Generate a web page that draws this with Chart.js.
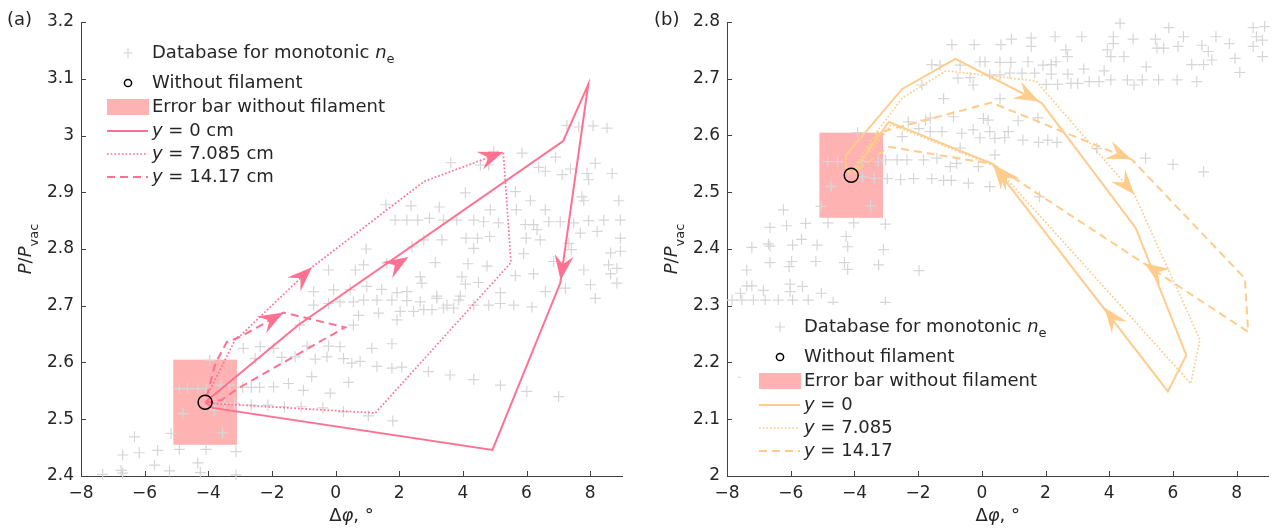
<!DOCTYPE html>
<html><head><meta charset="utf-8">
<script src="https://cdn.jsdelivr.net/npm/chart.js@4.4.1/dist/chart.umd.min.js"></script>
<style>
html,body{margin:0;padding:0;background:#fff;}
#wrap{position:relative;width:1277px;height:529px;overflow:hidden;background:#fff;}
canvas{position:absolute;top:0;}
</style></head><body>
<div id="wrap">
<canvas id="ca" width="640" height="529" style="left:0;width:640px;height:529px"></canvas>
<canvas id="cb" width="637" height="529" style="left:640px;width:637px;height:529px"></canvas>
</div>
<script>
// ---------- data ----------
const xTicks = [-8,-6,-4,-2,0,2,4,6,8];
const yTicksA = [2.4,2.5,2.6,2.7,2.8,2.9,3.0,3.1,3.2];
const yTicksB = [2.0,2.1,2.2,2.3,2.4,2.5,2.6,2.7,2.8];
const refPoint = [[-4.1,2.53]];
const errBarX = [-5.1,-3.1];
const errBarY = [2.455,2.605];
const lineLabelsA = ['0 cm','7.085 cm','14.17 cm'];
const lineLabelsB = ['0','7.085','14.17'];

const databaseA = [
[3.62,2.952],[4.55,2.948],[4.81,2.948],[4.97,2.972],[5.86,2.969],[6.38,2.944],[6.59,2.937],[7.12,2.931],[7.38,2.941],[7.90,2.933],[8.16,2.951],[7.95,2.922],[8.69,2.933],
[4.08,2.899],[5.65,2.901],[6.12,2.885],[7.74,2.892],[7.80,2.885],[8.90,2.885],
[1.58,2.878],[2.37,2.876],[3.26,2.874],[4.86,2.869],[5.68,2.869],[6.59,2.869],
[1.87,2.851],[2.24,2.851],[2.58,2.851],[2.95,2.854],[3.39,2.851],[3.81,2.851],[4.34,2.851],[4.65,2.848],[5.12,2.846],[5.96,2.843],[6.22,2.843],[6.33,2.834],[6.70,2.848],[7.06,2.848],[7.48,2.846],[7.95,2.85],[8.43,2.851],[8.95,2.851],
[2.77,2.816],[3.34,2.816],[4.10,2.819],[4.46,2.819],[4.84,2.822],[5.99,2.819],[6.43,2.816],[7.33,2.81],[7.69,2.828],[8.22,2.831],[8.95,2.819],
[0.96,2.80],[2.40,2.804],[4.34,2.801],[5.91,2.792],[7.41,2.799],[8.64,2.793],[8.95,2.796],
[0.88,2.772],[0.62,2.763],[1.61,2.775],[3.13,2.776],[4.16,2.774],[4.76,2.77],[5.65,2.753],[6.22,2.756],[6.85,2.778],[7.80,2.763],[8.58,2.772],[8.84,2.766],[8.64,2.756],
[-0.22,2.763],[2.66,2.751],[2.71,2.74],[3.97,2.751],[4.08,2.738],[4.49,2.741],[8.01,2.737],[8.84,2.74],
[-0.69,2.725],[-0.06,2.728],[0.46,2.728],[0.98,2.734],[1.45,2.729],[1.93,2.723],[2.24,2.725],[3.18,2.717],[3.92,2.717],[5.18,2.723],[6.59,2.725],[7.22,2.731],
[-0.69,2.701],[-0.22,2.704],[0.14,2.707],[0.56,2.707],[0.88,2.71],[1.30,2.71],[1.77,2.71],[2.24,2.709],[2.66,2.707],[3.18,2.713],[3.50,2.701],[3.87,2.71],[4.34,2.701],[4.81,2.701],[5.18,2.704],[5.60,2.701],[6.17,2.698],[8.16,2.713],
[2.03,2.69],[2.45,2.69],[2.77,2.693],[3.03,2.693],[3.39,2.696],[3.71,2.696],[1.35,2.687],[0.72,2.683],[1.93,2.675],[0.56,2.666],
[-2.90,2.625],[-2.37,2.628],[-1.95,2.625],[-0.90,2.629],[-0.22,2.629],[0.14,2.628],[1.14,2.625],[1.77,2.633],
[-2.53,2.607],[-1.69,2.609],[-1.27,2.61],[-0.64,2.606],[-0.27,2.61],[0.25,2.607],[0.51,2.599],[0.77,2.602],[1.30,2.593],[1.77,2.59],[2.08,2.592],[2.92,2.584],[3.60,2.578],[4.34,2.57],[5.18,2.56],[6.01,2.549],[7.01,2.54],
[-0.75,2.575],[-1.95,2.557],[-1.48,2.563],[-1.01,2.551],[-0.17,2.546],[0.41,2.565],
[6.91,2.962],[7.27,3.018],[7.64,3.015],[8.09,3.017],[8.53,3.013],[1.03,2.506],[1.80,2.497],[-1.13,2.666],
[-3.96,2.604],[-4.91,2.554],[-4.65,2.554],[-4.33,2.554],[-4.07,2.554],[-3.60,2.56],[-3.34,2.56],[-2.92,2.556],[-2.65,2.556],[-2.39,2.556],
[-4.80,2.51],[-3.81,2.516],[-3.49,2.528],[-3.18,2.528],[-2.65,2.525],[-2.13,2.525],[-1.61,2.522],[-1.08,2.522],[-0.40,2.52],[0.25,2.513],
[-6.32,2.469],[-5.17,2.475],[-3.55,2.476],[-6.69,2.437],[-6.17,2.441],[-5.59,2.445],[-4.91,2.447],[-4.07,2.447],[-3.13,2.443],
[-6.74,2.41],[-5.69,2.419],[-5.22,2.409],[-4.33,2.423],[-7.32,2.403],[-6.69,2.405],[-4.25,2.406],[-3.13,2.402]
];

const databaseB = [
[4.34,2.798],[5.87,2.790],[8.52,2.79],[8.88,2.792],
[-0.94,2.76],[-0.24,2.76],[0.60,2.76],[0.93,2.77],[1.55,2.772],[1.55,2.757],[2.30,2.774],[3.14,2.774],
[4.13,2.774],[4.13,2.762],[3.94,2.751],[4.05,2.739],[4.75,2.77],[5.45,2.77],[5.50,2.754],[5.71,2.754],[6.16,2.757],[6.33,2.774],[6.91,2.759],[7.35,2.774],[7.77,2.762],[8.52,2.757],[8.62,2.774],[8.81,2.768],[8.81,2.739],
[2.64,2.751],[2.69,2.739],[4.46,2.739],[7.11,2.748],[7.22,2.733],[7.95,2.736],[8.10,2.711],[6.59,2.725],[6.96,2.725],[5.16,2.721],
[-1.57,2.725],[-1.31,2.724],[-0.68,2.724],[-0.06,2.73],[0.10,2.73],[0.57,2.729],[0.91,2.729],[1.45,2.73],[1.92,2.724],[2.18,2.725],[2.33,2.73],[3.20,2.717],[3.84,2.714],
[-0.75,2.701],[-0.37,2.702],[-0.27,2.689],
[0.25,2.707],[0.57,2.707],[0.88,2.71],[1.26,2.71],[1.66,2.71],[2.18,2.708],[2.70,2.708],
[2.02,2.69],[2.38,2.69],[2.80,2.692],[3.01,2.692],[3.37,2.695],[3.68,2.695],[4.05,2.698],[4.57,2.698],[4.78,2.689],[5.04,2.698],[5.55,2.698],[6.13,2.698],[6.75,2.695],
[-1.88,2.689],[-1.2,2.665],[0.57,2.665],
[-2.31,2.624],[-1.77,2.627],[-1.62,2.631],[-0.89,2.633],[0.05,2.63],[0.20,2.627],[1.14,2.626],[1.76,2.631],
[-1.98,2.612],[-1.62,2.607],[-1.25,2.607],[-0.63,2.604],[-0.27,2.61],[0.25,2.607],[0.83,2.607],
[-2.50,2.598],[-0.06,2.596],[0.41,2.595],[0.72,2.596],[1.29,2.592],[1.78,2.588],[2.07,2.592],[2.36,2.588],
[-3.9,2.605],[-0.68,2.578],[0.41,2.566],[3.61,2.577],[5.14,2.56],[6.0,2.549],[6.96,2.536],
[-3.02,2.557],[-2.66,2.557],[-2.35,2.557],[-1.83,2.557],[-1.41,2.56],[-0.99,2.545],[-0.79,2.551],[-0.11,2.545],
[-4.84,2.554],[-4.53,2.554],[-3.75,2.554],[-3.25,2.554],
[-2.97,2.524],[-2.55,2.522],[-2.14,2.524],[-1.57,2.524],[-1.2,2.521],[-0.96,2.521],[-0.42,2.516],[0.25,2.51],[1.81,2.492],
[-3.75,2.527],[-3.38,2.525],[-4.74,2.51],[-3.49,2.476],[-5.05,2.475],
[-6.23,2.469],[-6.65,2.438],[-6.13,2.441],[-5.53,2.445],[-4.83,2.446],[-4.02,2.446],[-3.03,2.444],
[-7.22,2.403],[-6.7,2.409],[-6.65,2.405],[-5.94,2.407],[-5.66,2.417],[-5.17,2.407],[-4.26,2.422],[-4.21,2.404],[-3.09,2.399],
[-7.38,2.363],[-6.65,2.376],[-6.05,2.369],[-5.97,2.378],[-5.21,2.378],[-4.31,2.376],[-4.21,2.364],[-3.24,2.372],[-1.97,2.362],
[-7.38,2.335],[-7.22,2.335],[-7.58,2.322],[-6.86,2.327],[-6.02,2.338],[-6.02,2.325],[-5.63,2.334],[-5.04,2.322],
[-7.84,2.31],[-7.53,2.31],[-7.17,2.31],[-6.8,2.31],[-6.39,2.31],[-5.94,2.31],[-5.45,2.31],[-4.67,2.306],[-3.03,2.306],
[-7.5,2.174]
];

const y0A  = [[-4.1,2.53],[-1.15,2.667],[7.15,2.99],[7.94,3.09],[7.06,2.74],[4.93,2.446],[-3.86,2.52],[-4.1,2.53]];
const y7A  = [[-4.05,2.54],[-3.13,2.643],[-2.98,2.648],[-0.74,2.768],[2.78,2.919],[5.27,2.971],[5.51,2.776],[1.25,2.511],[-3.88,2.528],[-4.05,2.53]];
const y14A = [[-4.05,2.54],[-3.78,2.598],[-3.42,2.636],[-3.0,2.645],[-1.64,2.688],[0.30,2.662],[-3.05,2.555],[-3.58,2.534],[-4.05,2.53]];
// arrows: [tipX, tipY, fromX, fromY]
const arrows0A  = [[2.29,2.786,-1.15,2.667],[7.07,2.745,7.94,3.09]];
const arrows7A  = [[-0.74,2.768,-2.98,2.648],[5.27,2.971,2.78,2.919]];
const arrows14A = [[-1.64,2.688,-3.0,2.645]];

const y0B  = [[-4.1,2.53],[-4.27,2.545],[-4.27,2.565],[-2.5,2.682],[-0.83,2.735],[1.88,2.657],[4.83,2.437],[6.42,2.213],[5.84,2.149],[0.33,2.55],[-2.92,2.624],[-4.05,2.535]];
const y7B  = [[-4.05,2.54],[-3.25,2.61],[-2.5,2.666],[-1.12,2.714],[1.7,2.696],[4.79,2.496],[6.85,2.24],[6.56,2.163],[0.42,2.546],[-2.85,2.619],[-4.0,2.535]];
const y14B = [[-4.0,2.535],[-3.25,2.605],[0.3,2.658],[4.72,2.557],[8.26,2.348],[8.36,2.254],[0.33,2.55],[-2.92,2.58],[-3.54,2.554],[-4.0,2.535]];
const arrows0B  = [[1.8,2.66,-0.83,2.735],[3.85,2.297,5.84,2.149],[0.36,2.549,5.84,2.149]];
const arrows7B  = [[4.79,2.496,1.7,2.696],[0.45,2.546,6.56,2.163]];
const arrows14B = [[4.7,2.558,0.3,2.658],[5.1,2.375,8.36,2.254]];

// ---------- style ----------
const PINK = 'rgb(255,112,145)';
const ORANGE = 'rgb(255,204,140)';
const ERR = 'rgb(255,178,178)';
const GREY = 'rgb(214,214,214)';
const TXT = '#262626';
const AX = '#404040';
const FONT = '"DejaVu Sans", sans-serif';
Chart.defaults.font.family = FONT;

function pts(a){ return a.map(p => ({x:p[0], y:p[1]})); }
function fmt(v){ const s = String(Math.round(v*10)/10); return s.replace('-', '\u2212'); }

function rich(ctx, x, y, parts, size, align){
  let w = 0;
  const info = parts.map(p => {
    const sz = p[1]==='s' ? Math.round(size*0.72) : size;
    const f = (p[1]==='i' ? 'italic ' : '') + sz + 'px ' + FONT;
    ctx.font = f;
    const m = ctx.measureText(p[0]).width;
    w += m;
    return [f, m];
  });
  let cx = align==='center' ? x - w/2 : x;
  parts.forEach((p,i) => {
    ctx.font = info[i][0];
    ctx.fillText(p[0], cx, y + (p[1]==='s' ? size*0.38 : 0));
    cx += info[i][1];
  });
}

function drawArrow(ctx, xs, ys, a, color){
  const tx = xs.getPixelForValue(a[0]), ty = ys.getPixelForValue(a[1]);
  const fx = xs.getPixelForValue(a[2]), fy = ys.getPixelForValue(a[3]);
  const d = Math.hypot(tx-fx, ty-fy);
  const ux = (tx-fx)/d, uy = (ty-fy)/d, nx = -uy, ny = ux;
  const L = 25, W = 9.5, N = 16;
  ctx.beginPath();
  ctx.moveTo(tx, ty);
  ctx.lineTo(tx - L*ux + W*nx, ty - L*uy + W*ny);
  ctx.lineTo(tx - N*ux, ty - N*uy);
  ctx.lineTo(tx - L*ux - W*nx, ty - L*uy - W*ny);
  ctx.closePath();
  ctx.fillStyle = color;
  ctx.fill();
}

function lineDs(data, color, kind){
  const ds = {data: pts(data), showLine:true, pointRadius:0, borderColor:color, backgroundColor:color, tension:0, fill:false, borderWidth:2};
  if (kind==='dot'){ ds.borderWidth = 1.7; ds.borderDash = [1.7,2.0]; }
  if (kind==='dash'){ ds.borderDash = [8,5]; }
  return ds;
}

function legendLine(ctx, x0, x1, y, color, kind){
  ctx.save();
  ctx.strokeStyle = color;
  ctx.lineWidth = kind==='dot' ? 1.7 : 2;
  ctx.setLineDash(kind==='dot' ? [1.7,2.0] : kind==='dash' ? [8,5] : []);
  ctx.beginPath(); ctx.moveTo(x0,y); ctx.lineTo(x1,y); ctx.stroke();
  ctx.restore();
}

function build(id, p){
  const plugin = {
    id: 'deco' + id,
    beforeDatasetsDraw(chart){
      const {ctx, scales:{x, y}} = chart;
      const x0 = x.getPixelForValue(errBarX[0]), x1 = x.getPixelForValue(errBarX[1]);
      const y0 = y.getPixelForValue(errBarY[1]), y1 = y.getPixelForValue(errBarY[0]);
      ctx.save(); ctx.fillStyle = ERR; ctx.fillRect(x0, y0, x1-x0, y1-y0); ctx.restore();
    },
    afterDatasetsDraw(chart){
      const {ctx, scales:{x, y}, chartArea:ca} = chart;
      ctx.save();
      p.arrows.forEach(a => drawArrow(ctx, x, y, a, p.color));
      // inward ticks
      ctx.strokeStyle = AX; ctx.lineWidth = 1;
      ctx.beginPath();
      x.ticks.forEach(t => { const px = Math.round(x.getPixelForValue(t.value)) + 0.5; ctx.moveTo(px, ca.bottom); ctx.lineTo(px, ca.bottom - 5); });
      y.ticks.forEach(t => { const py = Math.round(y.getPixelForValue(t.value)) + 0.5; ctx.moveTo(ca.left, py); ctx.lineTo(ca.left + 5, py); });
      ctx.stroke();
      ctx.restore();
    },
    afterDraw(chart){
      const ctx = chart.ctx, ca = chart.chartArea;
      ctx.save();
      // legend box
      const ox = p.lx, oy = p.ly;
      ctx.fillStyle = '#fff';
      ctx.fillRect(ox - 18, oy - 22, 300, 163);
      // symbols
      ctx.strokeStyle = GREY; ctx.lineWidth = 1.2;
      ctx.beginPath(); ctx.moveTo(ox+16, oy); ctx.lineTo(ox+26, oy); ctx.moveTo(ox+21, oy-5); ctx.lineTo(ox+21, oy+5); ctx.stroke();
      ctx.strokeStyle = '#000'; ctx.lineWidth = 1.5;
      ctx.beginPath(); ctx.arc(ox+21, oy+30, 3.6, 0, Math.PI*2); ctx.stroke();
      ctx.fillStyle = ERR; ctx.fillRect(ox, oy+46, 42, 16);
      legendLine(ctx, ox, ox+41, oy+78, p.color, 'solid');
      legendLine(ctx, ox, ox+41, oy+101, p.color, 'dot');
      legendLine(ctx, ox, ox+41, oy+124, p.color, 'dash');
      // texts
      ctx.fillStyle = TXT; ctx.textBaseline = 'middle'; ctx.textAlign = 'left';
      const tx = ox + 45, fs = 18;
      rich(ctx, tx, oy, [['Database for monotonic ','n'],['n','i'],['e','s']], fs, 'left');
      rich(ctx, tx, oy+30, [['Without filament','n']], fs, 'left');
      rich(ctx, tx, oy+54, [['Error bar without filament','n']], fs, 'left');
      p.lineLabels.forEach((lab, i) => {
        rich(ctx, tx, oy + [78,101,124][i], [['y','i'],[' = ' + lab,'n']], fs, 'left');
      });
      // axis titles
      ctx.textBaseline = 'alphabetic';
      rich(ctx, (ca.left + ca.right)/2, 521, [['\u0394','n'],['\u03c6','i'],[', \u00b0','n']], 18, 'center');
      ctx.save();
      ctx.translate(p.ytx, (ca.top + ca.bottom)/2);
      ctx.rotate(-Math.PI/2);
      rich(ctx, 0, 0, [['P','i'],['/','n'],['P','i'],['vac','s']], 18, 'center');
      ctx.restore();
      ctx.font = '18px ' + FONT;
      ctx.fillText(p.letter, p.letterX, 25);
      ctx.restore();
    }
  };
  return new Chart(document.getElementById(id), {
    type: 'scatter',
    data: { datasets: [
      {data: pts(refPoint), pointStyle:'circle', pointRadius:7, borderColor:'#000', borderWidth:1.5, backgroundColor:'rgba(0,0,0,0)', clip:false},
      lineDs(p.l0, p.color, 'solid'),
      lineDs(p.l7, p.color, 'dot'),
      lineDs(p.l14, p.color, 'dash'),
      {data: pts(p.db), pointStyle:'cross', pointRadius:5.5, borderColor:GREY, borderWidth:1.2, backgroundColor:GREY, clip:false}
    ]},
    options: {
      responsive:false, animation:false, events:[],
      layout:{padding:{left:0, top:22, right:p.padRight, bottom:0}},
      plugins:{legend:{display:false}, tooltip:{enabled:false}},
      elements:{point:{hoverRadius:0}},
      scales:{
        x:{type:'linear', min:-8, max:9,
           afterBuildTicks: s => { s.ticks = xTicks.map(v => ({value:v})); },
           afterFit: s => { s.height = 53; },
           grid:{display:false, drawTicks:false},
           border:{display:true, color:AX, width:1},
           ticks:{padding:7, color:TXT, font:{size:17}, maxRotation:0, autoSkip:false, callback: v => fmt(v)}},
        y:{type:'linear', min:p.ymin, max:p.ymax,
           afterBuildTicks: s => { s.ticks = p.yTicks.map(v => ({value:v})); },
           afterFit: s => { s.width = p.axLeft; },
           grid:{display:false, drawTicks:false},
           border:{display:true, color:AX, width:1},
           ticks:{padding:7, color:TXT, font:{size:17}, autoSkip:false, callback: v => fmt(v)}}
      }
    },
    plugins:[plugin]
  });
}

build('ca', {db:databaseA, l0:y0A, l7:y7A, l14:y14A, arrows:[...arrows0A, ...arrows7A, ...arrows14A],
  color:PINK, ymin:2.4, ymax:3.2, yTicks:yTicksA, axLeft:81, padRight:18,
  lx:107, ly:53, lineLabels:lineLabelsA, ytx:31, letter:'(a)', letterX:7});
build('cb', {db:databaseB, l0:y0B, l7:y7B, l14:y14B, arrows:[...arrows0B, ...arrows7B, ...arrows14B],
  color:ORANGE, ymin:2.0, ymax:2.8, yTicks:yTicksB, axLeft:87, padRight:5,
  lx:119, ly:327, lineLabels:lineLabelsB, ytx:37, letter:'(b)', letterX:14});
</script>
</body></html>
